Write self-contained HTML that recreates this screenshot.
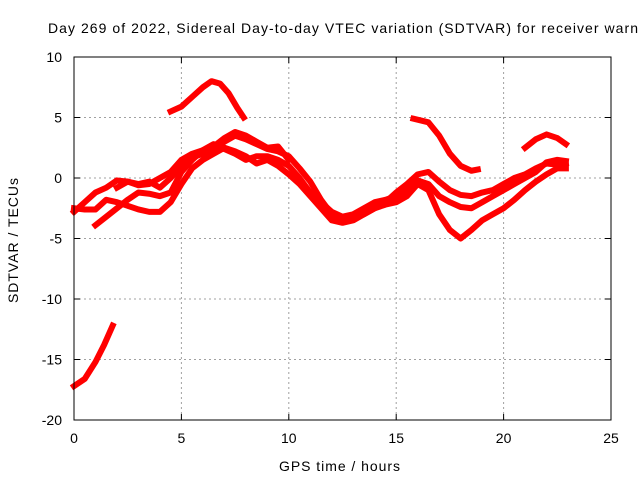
<!DOCTYPE html>
<html><head><meta charset="utf-8"><style>
body{margin:0;background:#fff}
svg text{font-family:"Liberation Sans",sans-serif;font-size:14px;fill:#000}
</style></head><body>
<svg id="chart" width="640" height="480" viewBox="0 0 640 480" xmlns="http://www.w3.org/2000/svg">
<rect width="640" height="480" fill="#fff"/>
<text x="48" y="33" textLength="590" lengthAdjust="spacing">Day 269 of 2022, Sidereal Day-to-day VTEC variation (SDTVAR) for receiver warn</text>
<g id="grid"></g><g id="series"></g>
<rect x="74" y="57" width="537" height="363" fill="none" stroke="#000" stroke-width="1"/>
<g id="ticks"></g>
<text x="279" y="471" textLength="121" lengthAdjust="spacing">GPS time / hours</text>
<text transform="translate(18,303) rotate(-90)" textLength="125" lengthAdjust="spacing">SDTVAR / TECUs</text>
</svg>
<script>
const xTicks=[0,5,10,15,20,25];
const yTicks=[10,5,0,-5,-10,-15,-20];
const seriesA=[[4.5,5.5],[5,5.9],[5.5,6.7],[6,7.5],[6.4,8.0],[6.8,7.8],[7.2,7.0],[7.6,5.8],[7.9,5.0]];
const seriesB=[[0,-17.2],[0.5,-16.6],[1,-15.2],[1.4,-13.8],[1.8,-12.2]];
const seriesC=[[15.8,4.9],[16.5,4.6],[17,3.5],[17.5,2],[18,1],[18.5,0.6],[18.8,0.7]];
const seriesD=[[21,2.5],[21.5,3.2],[22,3.6],[22.5,3.3],[22.9,2.8]];
const trace1=[[0,-2.8],[0.5,-2.0],[1,-1.2],[1.5,-0.8],[2,-0.2],[2.5,-0.3],[3,-0.5],[3.5,-0.3],[4,-0.8],[4.5,0],[5,1],[5.5,1.7],[6,2],[6.5,2.2],[7,3],[7.5,3.5],[8,3.2],[8.5,2.8],[9,2.4],[9.5,2.2],[10,1.8],[10.5,0.8],[11,-0.3],[11.5,-1.8],[12,-3],[12.5,-3.5],[13,-3.3],[13.5,-3],[14,-2.5],[14.5,-2],[15,-1.2],[15.5,-0.5],[16,0.3],[16.5,0.5],[17,-0.3],[17.5,-1],[18,-1.4],[18.5,-1.5],[19,-1.2],[19.5,-1],[20,-0.5],[20.5,0],[21,0.3],[21.5,0.8],[22,1.2],[22.5,1.1],[22.9,1.2]];
const trace2=[[0,-2.5],[0.5,-2.6],[1,-2.6],[1.5,-1.8],[2,-2],[2.5,-2.3],[3,-2.6],[3.5,-2.8],[4,-2.8],[4.5,-2],[5,-0.5],[5.5,0.8],[6,1.5],[6.5,2],[7,2.5],[7.5,2.2],[8,1.8],[8.5,1.2],[9,1.5],[9.5,1],[10,0.3],[10.5,-0.5],[11,-1.5],[11.5,-2.5],[12,-3.5],[12.5,-3.7],[13,-3.5],[13.5,-3],[14,-2.5],[14.5,-2.2],[15,-2],[15.5,-1.5],[16,-0.5],[16.5,-1],[17,-3],[17.5,-4.3],[18,-5],[18.5,-4.3],[19,-3.5],[19.5,-3],[20,-2.5],[20.5,-1.8],[21,-1],[21.5,-0.3],[22,0.3],[22.5,0.8],[22.9,0.8]];
const trace3=[[1,-3.9],[1.5,-3.2],[2,-2.5],[2.5,-1.8],[3,-1.2],[3.5,-1.3],[4,-1.5],[4.5,-1.2],[5,0.5],[5.5,1.5],[6,2.3],[6.5,2.8],[7,2.4],[7.5,2],[8,1.5],[8.5,1.8],[9,1.8],[9.5,1.5],[10,1],[10.5,0],[11,-1.2],[11.5,-2],[12,-2.8],[12.5,-3.2],[13,-3],[13.5,-2.5],[14,-2],[14.5,-1.8],[15,-1.5],[15.5,-1],[16,-0.2],[16.5,-0.5],[17,-1.5],[17.5,-2],[18,-2.4],[18.5,-2.5],[19,-2],[19.5,-1.5],[20,-1],[20.5,-0.5],[21,0],[21.5,0.5],[22,1.3],[22.5,1.5],[22.9,1.4]];
const trace4=[[2,-0.8],[2.5,-0.3],[3,-0.6],[3.5,-0.5],[4,0],[4.5,0.5],[5,1.5],[5.5,2],[6,2.3],[6.5,2.6],[7,3.3],[7.5,3.8],[8,3.5],[8.5,3],[9,2.5],[9.5,2.6],[10,1.5]];
const NS="http://www.w3.org/2000/svg";
const X0=74,X1=611,Y0=420,Y1=57;
function sx(v){return X0+(v-0)/(25-0)*(X1-X0);}
function sy(v){return Y0-(v+20)/(30)*(Y0-Y1);}
const grid=document.getElementById('grid'),ticks=document.getElementById('ticks'),ser=document.getElementById('series');
xTicks.forEach(t=>{
  const x=sx(t);
  if(t>0&&t<25){const g=document.createElementNS(NS,'line');
    
    
    g.setAttribute('x1',x);g.setAttribute('x2',x);g.setAttribute('y1',Y1);g.setAttribute('y2',Y0);
    g.setAttribute('stroke','#a0a0a0');g.setAttribute('stroke-dasharray','2,3');grid.appendChild(g);}
  const tk=document.createElementNS(NS,'line');
  
  
  tk.setAttribute('x1',x);tk.setAttribute('x2',x);tk.setAttribute('y1',Y0);tk.setAttribute('y2',Y0-6);tk.setAttribute('stroke','#000');ticks.appendChild(tk);
  const tk2=tk.cloneNode();tk2.setAttribute('y1',Y1);tk2.setAttribute('y2',Y1+6);ticks.appendChild(tk2);
  const l=document.createElementNS(NS,'text');
  
  
  l.setAttribute('x',x);l.setAttribute('y',443);l.setAttribute('text-anchor','middle');l.textContent=t;ticks.appendChild(l);
});
yTicks.forEach(t=>{
  const y=sy(t);
  if(t>-20&&t<10){const g=document.createElementNS(NS,'line');
    
    
    g.setAttribute('x1',X0);g.setAttribute('x2',X1);g.setAttribute('y1',y);g.setAttribute('y2',y);
    g.setAttribute('stroke','#a0a0a0');g.setAttribute('stroke-dasharray','2,3');grid.appendChild(g);}
  const tk=document.createElementNS(NS,'line');
  
  
  tk.setAttribute('x1',X0);tk.setAttribute('x2',X0+6);tk.setAttribute('y1',y);tk.setAttribute('y2',y);tk.setAttribute('stroke','#000');ticks.appendChild(tk);
  const tk2=tk.cloneNode();tk2.setAttribute('x1',X1);tk2.setAttribute('x2',X1-6);ticks.appendChild(tk2);
  const l=document.createElementNS(NS,'text');
  
  
  l.setAttribute('x',62);l.setAttribute('y',y+5);l.setAttribute('text-anchor','end');l.textContent=t;ticks.appendChild(l);
});
[seriesA,seriesB,seriesC,seriesD,trace1,trace2,trace3,trace4].forEach(s=>{
  const p=document.createElementNS(NS,'polyline');
  
  
  p.setAttribute('points',s.map(d=>sx(d[0])+','+sy(d[1])).join(' '));
  p.setAttribute('fill','none');p.setAttribute('stroke','#ff0000');p.setAttribute('stroke-width','6');
  p.setAttribute('stroke-linejoin','round');p.setAttribute('stroke-linecap','square');
  ser.appendChild(p);
});
</script>
</body></html>
